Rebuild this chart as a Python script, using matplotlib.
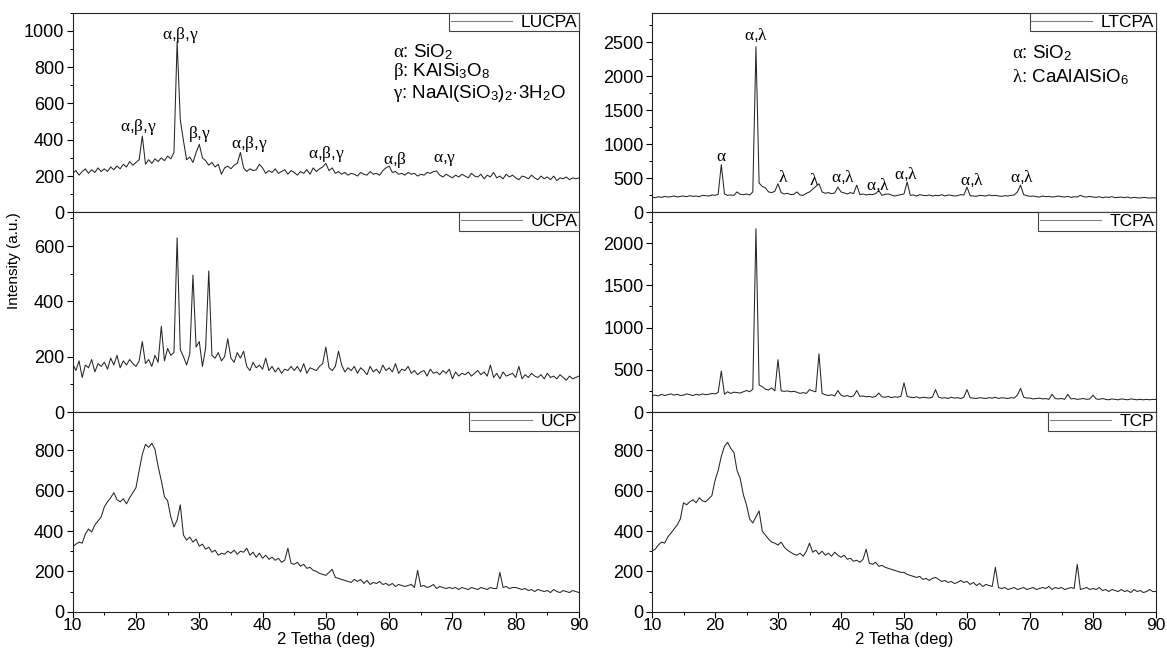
import matplotlib
matplotlib.use("Agg")
import matplotlib.pyplot as plt
import numpy as np
from matplotlib.ticker import MultipleLocator

plt.rcParams["font.family"] = "Liberation Sans"
plt.rcParams["mathtext.fontset"] = "custom"
plt.rcParams["mathtext.rm"] = "Liberation Sans"
plt.rcParams["mathtext.it"] = "Liberation Serif"

# 2-theta grid, 10..90 deg every 0.5 deg (161 points)
two_theta = np.linspace(10, 90, 161)

# intensities, one row = 5 deg
LUCPA = [
    215, 230, 205, 225, 240, 215, 235, 220, 245, 225,
    240, 225, 250, 235, 255, 240, 265, 250, 280, 260,
    275, 290, 420, 265, 290, 270, 295, 280, 300, 285,
    310, 295, 330, 940, 510, 395, 290, 305, 275, 330,
    375, 300, 285, 260, 275, 250, 265, 210, 245, 255,
    240, 260, 270, 330, 245, 225, 240, 230, 235, 265,
    245, 215, 230, 220, 240, 215, 225, 235, 210, 230,
    220, 205, 225, 215, 235, 210, 245, 225, 240, 250,
    270, 230, 245, 215, 225, 210, 220, 205, 215, 210,
    200, 220, 210, 205, 225, 210, 215, 205, 230, 245,
    255, 220, 225, 210, 215, 205, 220, 210, 215, 200,
    210, 205, 220, 215, 225, 228, 205, 195, 210, 200,
    190, 205, 195, 210, 200, 190, 215, 200, 195, 210,
    185, 205, 195, 220, 190, 200, 185, 210, 195, 205,
    190, 180, 200, 195, 185, 205, 190, 180, 200, 185,
    195, 180, 200, 175, 190, 185, 195, 180, 190, 185,
    190,
]
UCPA = [
    175, 150, 185, 125, 170, 160, 190, 145, 175, 165,
    180, 155, 195, 170, 205, 160, 185, 170, 190, 175,
    165, 185, 255, 175, 190, 165, 205, 180, 310, 185,
    230, 205, 215, 630, 225, 200, 170, 210, 495, 235,
    255, 165, 230, 510, 205, 195, 215, 185, 200, 265,
    195, 180, 215, 195, 220, 165, 150, 180, 160, 170,
    155, 195, 150, 165, 145, 160, 140, 155, 150, 165,
    150, 165, 145, 175, 140, 160, 155, 150, 165, 175,
    235, 160, 150, 165, 220, 170, 145, 160, 150, 165,
    140, 160, 150, 135, 165, 145, 155, 140, 170, 150,
    160, 145, 175, 140, 155, 150, 165, 140, 150, 135,
    145, 150, 130, 155, 140, 145, 135, 150, 140, 155,
    120, 145, 130, 140, 135, 145, 130, 140, 150, 135,
    145, 130, 170, 125, 140, 120, 145, 130, 135, 140,
    125, 165, 120, 135, 125, 140, 130, 125, 135, 120,
    140, 125, 130, 120, 135, 125, 115, 130, 120, 125,
    130,
]
UCP = [
    320, 335, 345, 340, 385, 410, 395, 430, 450, 470,
    520, 545, 565, 590, 555, 545, 560, 535, 565, 590,
    615, 700, 780, 830, 815, 835, 805, 720, 650, 570,
    550, 470, 420, 455, 530, 380, 355, 370, 345, 360,
    325, 335, 310, 320, 295, 305, 280, 290, 285, 300,
    290, 305, 285, 300, 295, 315, 280, 295, 270, 290,
    265, 280, 260, 270, 255, 265, 245, 255, 315, 240,
    235, 245, 225, 235, 215, 220, 205, 200, 190, 185,
    180, 195, 210, 170, 165, 160, 155, 150, 145, 160,
    150, 160, 140, 155, 135, 145, 140, 150, 135, 140,
    130, 140, 125, 135, 130, 125, 130, 135, 120, 205,
    125, 130, 120, 125, 135, 115, 125, 120, 115, 120,
    115, 120, 110, 120, 115, 110, 120, 115, 110, 120,
    115, 110, 120, 115, 115, 195, 120, 125, 115, 120,
    120, 115, 110, 115, 105, 110, 100, 110, 105, 100,
    105, 95, 110, 100, 95, 105, 100, 95, 105, 100,
    95,
]
LTCPA = [
    225, 215, 230, 220, 235, 225, 230, 240, 225, 235,
    240, 230, 245, 235, 240, 230, 250, 245, 240, 255,
    250, 265, 700, 270, 250, 255, 250, 300, 265, 260,
    270, 255, 300, 2430, 430, 380, 360, 300, 290, 310,
    420, 290, 270, 280, 260, 265, 300, 255, 250, 280,
    300, 340, 380, 420, 300, 280, 290, 275, 285, 370,
    300, 285, 270, 290, 275, 400, 260, 270, 255, 265,
    260, 275, 320, 250, 265, 270, 255, 240, 250, 260,
    270, 445, 250, 255, 240, 260, 250, 245, 255, 240,
    250, 245, 260, 240, 255, 250, 240, 245, 260, 255,
    370, 245, 240, 235, 250, 245, 240, 255, 245, 250,
    240, 235, 245, 240, 250, 255, 300, 400, 260, 245,
    235, 240, 230, 225, 240, 230, 235, 225, 230, 240,
    230, 225, 235, 220, 230, 225, 250, 230, 225, 235,
    225, 220, 230, 215, 225, 220, 230, 215, 220, 225,
    215, 225, 210, 220, 215, 210, 220, 215, 210, 215,
    210,
]
TCPA = [
    195, 200, 190, 210, 195, 205, 215, 200, 210, 195,
    200, 215, 205, 195, 210, 200, 215, 205, 210, 220,
    215, 230, 485, 210, 240, 220, 235, 230, 225, 240,
    255, 240, 270, 2170, 320, 300, 270, 260, 285, 250,
    620, 250, 245, 250, 240, 245, 235, 220, 230, 220,
    265, 250, 240, 690, 220, 205, 195, 205, 190, 255,
    200, 185, 195, 180, 190, 255, 185, 190, 180, 185,
    175, 185, 225, 180, 175, 185, 170, 180, 175, 185,
    345, 185, 175, 170, 180, 165, 175, 170, 165, 175,
    265, 175, 165, 170, 160, 175, 165, 170, 160, 175,
    265, 170, 165, 160, 170, 165, 160, 170, 165, 175,
    160, 170, 165, 160, 170, 165, 200, 280, 175, 165,
    165, 155, 160, 165, 155, 160, 150, 210, 160, 155,
    160, 150, 210, 155, 160, 150, 155, 160, 150, 155,
    200, 155, 150, 160, 150, 145, 155, 150, 145, 155,
    150, 145, 155, 150, 145, 150, 145, 150, 145, 150,
    148,
]
TCP = [
    300, 310, 330, 345, 340, 370, 390, 410, 430, 460,
    540, 530, 545, 555, 540, 565, 550, 545, 560, 575,
    650, 700, 770, 820, 840, 810, 790, 700, 660, 580,
    530, 460, 440, 470, 500, 400, 380, 360, 345, 340,
    330, 345, 320, 305, 295, 285, 280, 290, 275, 300,
    340, 295, 305, 285, 300, 280, 290, 275, 295, 280,
    270, 280, 260, 265, 250, 255, 245, 260, 310, 240,
    235, 245, 225, 230, 220, 215, 210, 205, 200, 195,
    195, 185, 180, 175, 170, 175, 160, 165, 155, 165,
    170, 160, 150, 155, 145, 150, 140, 145, 155, 145,
    150, 135, 145, 130, 140, 125, 135, 130, 125, 220,
    120, 115, 120, 110, 115, 120, 110, 115, 120, 110,
    115, 120, 110, 115, 120, 115, 125, 110, 120, 115,
    120, 110, 115, 120, 115, 235, 110, 115, 120, 110,
    115, 110, 120, 105, 110, 100, 110, 105, 100, 110,
    100, 105, 95, 110, 100, 105, 95, 100, 110, 100,
    100,
]

# peak tags (label, 2theta, intensity)
LUCPA_TAGS = [
    (r"$\alpha{,}\beta{,}\gamma$", 27.0, 975),
    (r"$\alpha{,}\beta{,}\gamma$", 20.4, 468),
    (r"$\beta{,}\gamma$", 30.1, 434),
    (r"$\alpha{,}\beta{,}\gamma$", 37.9, 378),
    (r"$\alpha{,}\beta{,}\gamma$", 50.1, 322),
    (r"$\alpha{,}\beta$", 60.9, 286),
    (r"$\alpha{,}\gamma$", 68.8, 286),
]
LTCPA_TAGS = [
    (r"$\alpha{,}\lambda$", 26.6, 2600),
    (r"$\alpha$", 21.0, 814),
    (r"$\lambda$", 30.8, 520),
    (r"$\lambda$", 35.8, 470),
    (r"$\alpha{,}\lambda$", 40.3, 520),
    (r"$\alpha{,}\lambda$", 45.9, 397),
    (r"$\alpha{,}\lambda$", 50.4, 569),
    (r"$\alpha{,}\lambda$", 60.8, 470),
    (r"$\alpha{,}\lambda$", 68.7, 520),
]
LUCPA_PHASES = [r"$\alpha$: SiO$_2$", r"$\beta$: KAlSi$_3$O$_8$",
                r"$\gamma$: NaAl(SiO$_3$)$_2$·3H$_2$O"]
LUCPA_PHASE_Y = [880, 775, 656]
LTCPA_PHASES = [r"$\alpha$: SiO$_2$", r"$\lambda$: CaAlAlSiO$_6$"]
LTCPA_PHASE_Y = [2338, 1984]

# (series, name, ymax, major, minor) for left and right columns, top to bottom
LEFT = [(LUCPA, "LUCPA", 1100, 200, 100),
        (UCPA, "UCPA", 722, 200, 100),
        (UCP, "UCP", 990, 200, 100)]
RIGHT = [(LTCPA, "LTCPA", 2930, 500, 250),
         (TCPA, "TCPA", 2363, 500, 250),
         (TCP, "TCP", 990, 200, 100)]

W, H = 1167, 648
fig = plt.figure(figsize=(W / 100, H / 100), dpi=100)
fig.patch.set_facecolor("white")

col_x = [(72.7, 579.0), (652.0, 1156.0)]
top_px, bot_px = 12.7, 611.7
row_h = (bot_px - top_px) / 3

axes = {}
for c, column in enumerate([LEFT, RIGHT]):
    x0, x1 = col_x[c]
    for r, (ys, name, ymax, major, minor) in enumerate(column):
        y_top = top_px + r * row_h
        ax = fig.add_axes([x0 / W, 1 - (y_top + row_h) / H, (x1 - x0) / W, row_h / H])
        ax.plot(two_theta, ys, color="#262626", lw=0.75, label=name)
        ax.set_xlim(10, 90)
        ax.set_ylim(0, ymax)
        ax.yaxis.set_major_locator(MultipleLocator(major))
        ax.yaxis.set_minor_locator(MultipleLocator(minor))
        ax.xaxis.set_major_locator(MultipleLocator(10))
        ax.xaxis.set_minor_locator(MultipleLocator(5))
        ax.tick_params(axis="y", which="major", direction="out", length=4, width=0.8,
                       labelsize=13, pad=2)
        ax.tick_params(axis="y", which="minor", direction="out", length=2.5, width=0.7)
        if r < 2:
            ax.tick_params(axis="x", which="both", length=0, labelbottom=False)
        else:
            ax.tick_params(axis="x", which="major", direction="out", length=4, width=0.8,
                           labelsize=12.5, pad=0.5)
            ax.tick_params(axis="x", which="minor", direction="out", length=2.5, width=0.7)
            ax.set_xlabel("2 Tetha (deg)", fontsize=12, va="baseline")
            ax.xaxis.set_label_coords(0.5, -(644 - bot_px) / row_h)
        for sp in ax.spines.values():
            sp.set_linewidth(0.8)
            sp.set_color("#222222")
        leg = ax.legend(loc="upper right", borderaxespad=0, fancybox=False,
                        edgecolor="#444444", framealpha=1, fontsize=12.5,
                        handlelength=3.5, handletextpad=0.5, borderpad=0.1)
        leg.get_frame().set_linewidth(0.8)
        leg.get_lines()[0].set_color("#808080")
        leg.get_lines()[0].set_linewidth(0.8)
        axes[name] = ax

for label, x, y in LUCPA_TAGS:
    axes["LUCPA"].text(x, y, label, ha="center", va="center", fontsize=12.5)
for label, x, y in LTCPA_TAGS:
    axes["LTCPA"].text(x, y, label, ha="center", va="center", fontsize=12.5)
for label, y in zip(LUCPA_PHASES, LUCPA_PHASE_Y):
    axes["LUCPA"].text(60.6, y, label, ha="left", va="center", fontsize=13.5)
for label, y in zip(LTCPA_PHASES, LTCPA_PHASE_Y):
    axes["LTCPA"].text(67.1, y, label, ha="left", va="center", fontsize=13.5)

ax = axes["UCPA"]
ax.set_ylabel("Intensity (a.u.)", fontsize=11)
ax.yaxis.set_label_coords(-0.102, 0.76)

fig.savefig("out.png", dpi=100)
